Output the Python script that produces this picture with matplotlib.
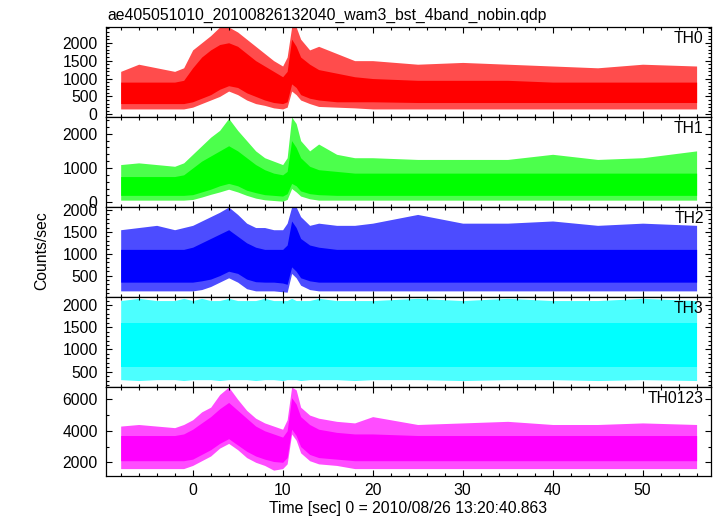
"""
WAM 4-band light curve (ae405051010, 2010/08/26 13:20:40.863)
Band envelopes read off the QDP plot, drawn as filled ranges
"""

import numpy as np
import matplotlib
matplotlib.use("Agg")
import matplotlib.pyplot as plt
from matplotlib.ticker import MultipleLocator

plt.rcParams['font.family'] = ['Liberation Sans', 'DejaVu Sans']

# time nodes [sec] where the envelopes were read
t_nodes = [-8, -6, -4, -2, -1, 0, 1, 2, 3, 4, 5, 6, 7, 8, 9, 10, 10.5, 11, 11.5,
           12, 13, 14, 16, 18, 20, 25, 30, 35, 40, 45, 50, 56]

# TH0
th0_band_hi = [900, 900, 900, 900, 950, 1300, 1600, 1800, 1950, 2000, 1900, 1700, 1500, 1350, 1200, 1050,
               1200, 2100, 1900, 1600, 1400, 1250, 1150, 1050, 1000, 950, 950, 950, 900, 900, 900, 900]
th0_peak_hi = [1200, 1400, 1300, 1200, 1300, 1800, 2000, 2200, 2440, 2440, 2300, 2100, 1900, 1700, 1500, 1350,
               1600, 2440, 2440, 2100, 1800, 1900, 1700, 1500, 1500, 1400, 1450, 1400, 1350, 1300, 1400, 1350]
th0_band_lo = [300, 300, 300, 300, 300, 350, 450, 550, 700, 800, 750, 600, 500, 400, 330, 300,
               350, 850, 750, 550, 450, 400, 350, 350, 350, 330, 330, 330, 330, 330, 330, 330]
th0_peak_lo = [150, 150, 150, 150, 150, 200, 300, 400, 500, 650, 550, 400, 300, 250, 180, 150,
               200, 650, 550, 400, 300, 220, 200, 180, 150, 150, 150, 150, 150, 150, 150, 150]

# TH1
th1_band_hi = [750, 750, 750, 750, 800, 1000, 1200, 1350, 1500, 1650, 1500, 1300, 1100, 950, 850, 800,
               900, 1800, 1600, 1300, 1050, 950, 900, 850, 850, 850, 850, 850, 850, 850, 850, 850]
th1_peak_hi = [1100, 1150, 1100, 1050, 1150, 1400, 1650, 1900, 2100, 2450, 2100, 1800, 1500, 1300, 1200, 1100,
               1300, 2490, 2300, 1800, 1500, 1700, 1400, 1300, 1300, 1250, 1250, 1250, 1400, 1250, 1300, 1500]
th1_band_lo = [200, 200, 200, 200, 200, 220, 300, 380, 480, 550, 480, 350, 280, 220, 200, 180,
               250, 550, 480, 330, 250, 220, 200, 200, 200, 200, 200, 200, 200, 200, 200, 200]
th1_peak_lo = [60, 60, 60, 60, 60, 80, 150, 230, 300, 380, 300, 200, 120, 70, 50, 30,
               80, 400, 300, 180, 100, 60, 60, 60, 60, 60, 60, 60, 60, 60, 60, 60]

# TH2
th2_band_hi = [1100, 1100, 1100, 1100, 1100, 1150, 1250, 1350, 1450, 1550, 1400, 1250, 1150, 1100, 1100, 1100,
               1200, 1750, 1600, 1350, 1200, 1150, 1100, 1100, 1100, 1100, 1100, 1100, 1100, 1100, 1100, 1100]
th2_peak_hi = [1550, 1600, 1650, 1550, 1600, 1650, 1750, 1850, 1950, 2070, 1900, 1700, 1600, 1600, 1550, 1550,
               1700, 2070, 2070, 1850, 1650, 1700, 1650, 1650, 1700, 1900, 1700, 1700, 1750, 1650, 1700, 1650]
th2_band_lo = [350, 350, 350, 350, 350, 350, 380, 420, 500, 600, 550, 420, 360, 350, 350, 330,
               300, 700, 600, 450, 380, 350, 350, 350, 350, 350, 350, 350, 350, 350, 350, 350]
th2_peak_lo = [150, 150, 150, 150, 150, 150, 180, 250, 350, 450, 350, 200, 150, 150, 150, 130,
               120, 550, 450, 280, 180, 150, 150, 150, 150, 150, 150, 150, 150, 150, 150, 150]

# TH3 (flat)
th3_band_hi = [1600] * len(t_nodes)
th3_peak_hi = [2100, 2150, 2100, 2100, 2150, 2100, 2150, 2100, 2100, 2150, 2100, 2100, 2100, 2150, 2100, 2100,
               2100, 2150, 2100, 2100, 2100, 2150, 2100, 2100, 2100, 2150, 2100, 2150, 2100, 2100, 2150, 2100]
th3_band_lo = [600] * len(t_nodes)
th3_peak_lo = [320, 300, 320, 320, 300, 320, 320, 320, 300, 320, 320, 320, 300, 320, 320, 300,
               320, 320, 320, 300, 320, 320, 320, 300, 320, 320, 300, 320, 320, 300, 320, 300]

# TH0123 (sum)
th0123_band_hi = [3700, 3700, 3700, 3700, 3800, 4100, 4500, 4900, 5400, 5800, 5300, 4800, 4300, 4000, 3800, 3600,
                  4000, 6100, 5700, 4900, 4400, 4100, 3900, 3800, 3800, 3700, 3700, 3700, 3700, 3700, 3700, 3700]
th0123_peak_hi = [4300, 4400, 4300, 4200, 4400, 4700, 5200, 5500, 6300, 6780, 6000, 5300, 4800, 4500, 4300, 4100,
                  4700, 6780, 6600, 5500, 5000, 4800, 4600, 4500, 4900, 4400, 4500, 4600, 4400, 4400, 4500, 4400]
th0123_band_lo = [2100, 2100, 2100, 2100, 2100, 2200, 2500, 2800, 3200, 3500, 3100, 2700, 2400, 2200, 2050, 2000,
                  2300, 4100, 3700, 3000, 2500, 2300, 2200, 2100, 2100, 2100, 2100, 2100, 2100, 2100, 2100, 2100]
th0123_peak_lo = [1600, 1600, 1600, 1600, 1600, 1800, 2100, 2400, 2900, 3200, 2800, 2300, 2000, 1800, 1500, 1600,
                  1900, 3800, 3400, 2600, 2100, 1900, 1800, 1600, 1600, 1600, 1600, 1600, 1600, 1600, 1600, 1600]

bands = ["TH0", "TH1", "TH2", "TH3", "TH0123"]
colors = ["#ff0000", "#00ff00", "#0000ff", "#00ffff", "#ff00ff"]
envelopes = [
    (th0_peak_lo, th0_band_lo, th0_band_hi, th0_peak_hi),
    (th1_peak_lo, th1_band_lo, th1_band_hi, th1_peak_hi),
    (th2_peak_lo, th2_band_lo, th2_band_hi, th2_peak_hi),
    (th3_peak_lo, th3_band_lo, th3_band_hi, th3_peak_hi),
    (th0123_peak_lo, th0123_band_lo, th0123_band_hi, th0123_peak_hi),
]
ylims = [(-75, 2440), (-140, 2490), (10, 2070), (155, 2180), (1130, 6780)]
y_major = [500, 1000, 500, 500, 2000]
y_minor = [100, 200, 100, 100, 1000]

W, H = 717, 516
left, right = 106, 711
tops = [27, 117, 207, 297, 387]
heights = [90, 90, 90, 90, 89]

fig = plt.figure(figsize=(W / 100, H / 100), dpi=100)

axes = []
for i in range(5):
    ax = fig.add_axes([left / W, 1 - (tops[i] + heights[i]) / H, (right - left) / W, heights[i] / H])
    axes.append(ax)
    plo, blo, bhi, phi = envelopes[i]
    # spiky outer envelope lighter, dense core solid
    ax.fill_between(t_nodes, plo, phi, color=colors[i], alpha=0.7, linewidth=0)
    ax.fill_between(t_nodes, blo, bhi, color=colors[i], linewidth=0)

    ax.set_xlim(-9.63, 57.6)
    ax.set_ylim(*ylims[i])
    ax.xaxis.set_major_locator(MultipleLocator(10))
    ax.xaxis.set_minor_locator(MultipleLocator(2))
    ax.yaxis.set_major_locator(MultipleLocator(y_major[i]))
    ax.yaxis.set_minor_locator(MultipleLocator(y_minor[i]))
    ax.tick_params(which='both', direction='in', top=True, right=True, width=0.8,
                   labelsize=11.3, pad=6)
    ax.tick_params(which='major', length=4.5)
    ax.tick_params(which='minor', length=2.5)
    for s in ax.spines.values():
        s.set_linewidth(0.9)
    if i < 4:
        ax.tick_params(labelbottom=False)
    ax.text(0.988, 0.875, bands[i], transform=ax.transAxes, ha='right', va='center', fontsize=11.3)

axes[-1].tick_params(axis='x', pad=5)
axes[-1].set_xlabel('Time [sec] 0 = 2010/08/26 13:20:40.863', fontsize=11.3, labelpad=2)

fig.text(107 / W, 1 - 15 / H, 'ae405051010_20100826132040_wam3_bst_4band_nobin.qdp',
         ha='left', va='center', fontsize=11.3)
fig.text(42 / W, 1 - 251 / H, 'Counts/sec', rotation=90, ha='center', va='center', fontsize=11.3)

plt.savefig('out.png', dpi=100)
plt.close()
